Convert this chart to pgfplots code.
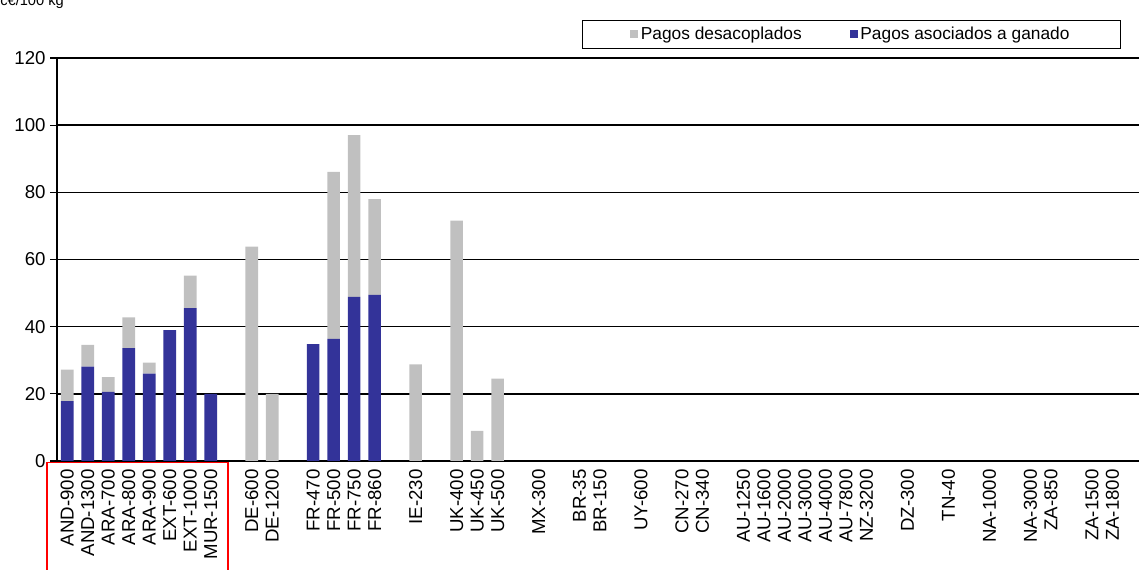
\documentclass[border=0pt]{standalone}
\usepackage{pgfplots}
\pgfplotsset{compat=1.18}
\usepackage{fontspec}
\setmainfont{Liberation Sans}
\definecolor{cblue}{HTML}{333399}
\definecolor{cgrey}{HTML}{C0C0C0}
\begin{document}
\begin{tikzpicture}
\node[anchor=south west,font=\fontsize{11}{11}\selectfont,inner sep=0pt] at (0pt,421pt) {c€/100 kg};
\begin{axis}[
  scale only axis, anchor=south west, at={(42.75pt,81.75pt)},
  width=811.5pt, height=302.25pt,
  ybar stacked, bar width=9.5pt,
  xmin=-0.5, xmax=52.3, ymin=0, ymax=120,
  ytick={0,20,...,120}, ymajorgrids, grid style={black,line width=1.1pt},
  axis x line*=bottom, axis y line*=left,
  axis line style={line width=1.1pt,-},
  tick style={black,line width=0.8pt},
  ytick align=outside, major tick length=5pt,
  xtick={0,1,2,3,4,5,6,7,9,10,12,13,14,15,17,19,20,21,23,25,26,28,30,31,33,34,35,36,37,38,39,41,43,45,47,48,50,51,52},
  xticklabels={AND-900,AND-1300,ARA-700,ARA-800,ARA-900,EXT-600,EXT-1000,MUR-1500,DE-600,DE-1200,FR-470,FR-500,FR-750,FR-860,IE-230,UK-400,UK-450,UK-500,MX-300,BR-35,BR-150,UY-600,CN-270,CN-340,AU-1250,AU-1600,AU-2000,AU-3000,AU-...,AU-4800,AU-7800,NZ-3200,DZ-300,TN-40,NA-1000,NA-3000,ZA-850,ZA-1500,ZA-1800},
  x tick label style={rotate=90,anchor=east,font=\fontsize{14}{14}\selectfont,inner sep=1pt},
  xtick style={draw=none},
  minor xtick={-0.5,0.5,...,52.5},
  minor x tick style={black,line width=0.8pt},
  xtick align=outside, minor tick length=5pt,
  y tick label style={font=\fontsize{14}{14}\selectfont},
  /pgf/number format/assume math mode=true,
  clip=false,
  legend columns=2,
  legend style={at={(0.983,1.094)},anchor=north east,draw=black,line width=0.6pt,
    font=\fontsize{13}{13}\selectfont,/tikz/every even column/.append style={column sep=34pt},
    inner xsep=36pt,inner ysep=3pt},
  legend image code/.code={\fill[#1,draw=none] (0pt,-3pt) rectangle (6pt,3pt);},
  reverse legend,
]
\addplot[fill=cblue,draw=none] coordinates {
(0,17.8)(1,28.1)(2,20.6)(3,33.6)(4,26.0)(5,39.0)(6,45.5)(7,20.0)
(9,0)(10,0)(12,34.8)(13,36.4)(14,48.9)(15,49.5)(17,0)(19,0)(20,0)(21,0)};
\addplot[fill=cgrey,draw=none] coordinates {
(0,9.4)(1,6.5)(2,4.4)(3,9.2)(4,3.3)(5,0)(6,9.7)(7,0)
(9,63.8)(10,20.0)(12,0)(13,49.7)(14,48.1)(15,28.5)(17,28.8)(19,71.6)(20,9.0)(21,24.5)};
\legend{Pagos asociados a ganado,Pagos desacoplados}
\end{axis}
\draw[red,line width=1pt] (35.25pt,-5pt) -- (35.25pt,80.5pt) -- (171pt,80.5pt) -- (171pt,-5pt);
\pgfresetboundingbox
\useasboundingbox (0,0) rectangle (854.25pt,427.5pt);
\end{tikzpicture}
\end{document}
